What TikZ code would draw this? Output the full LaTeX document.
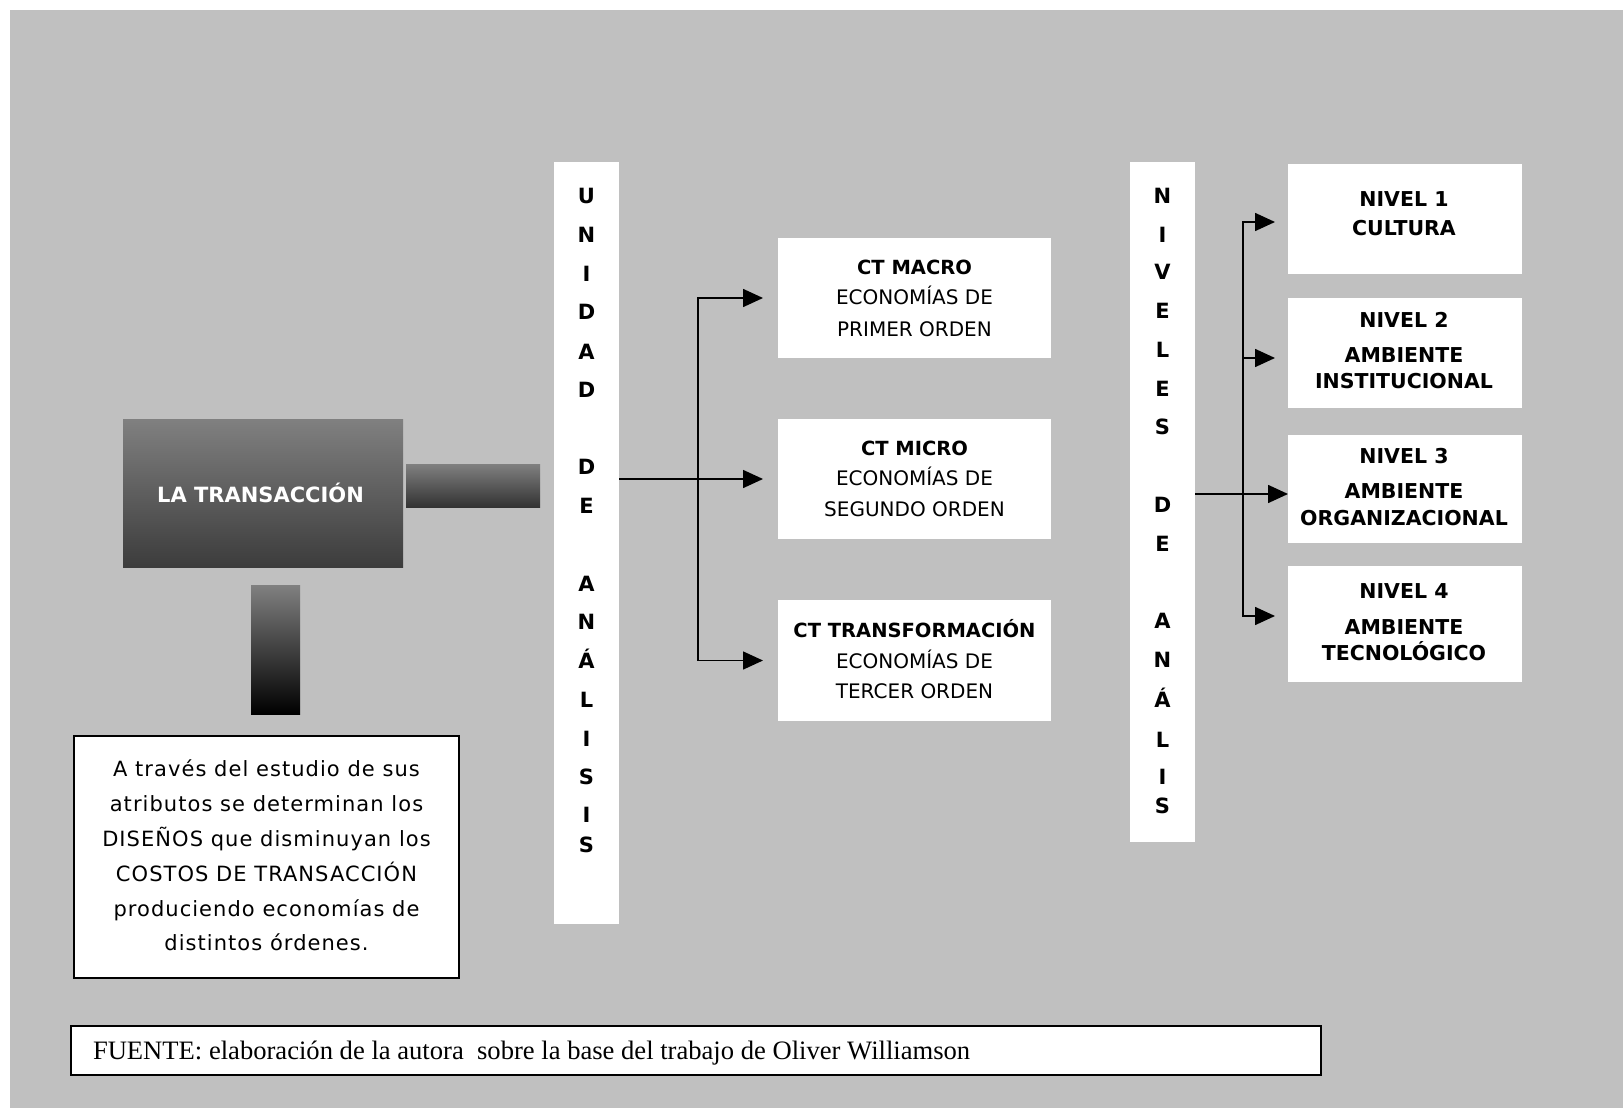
\documentclass[tikz,border=0pt]{standalone}
\usepackage{fontspec}
\usetikzlibrary{arrows.meta}
\setmainfont{DejaVu Sans}
\newfontfamily\footfont{Liberation Serif}
\newfontfamily\widefont[LetterSpace=5]{DejaVu Sans}

\definecolor{bg}{HTML}{C0C0C0}
\definecolor{shadetop}{HTML}{808080}
\definecolor{boxbottom}{HTML}{3C3C3C}
\definecolor{barbottom}{HTML}{333333}

\tikzset{
  wbox/.style={rectangle, fill=white, draw=none, inner sep=0pt, outer sep=0pt, anchor=north west},
  gbox/.style={rectangle, draw=none, inner sep=0pt, outer sep=0pt, anchor=north west, top color=shadetop},
  framed/.style={wbox, draw=black, line width=2pt},
  txt/.style={inner sep=0pt, outer sep=0pt, anchor=base},
  bigbold/.style={txt, font=\bfseries\fontsize{21}{24}\selectfont},
  ctbold/.style={txt, font=\bfseries\fontsize{19.5}{22}\selectfont},
  ctreg/.style={txt, font=\fontsize{20}{22}\selectfont},
  nvbold/.style={txt, font=\bfseries\fontsize{20.5}{24}\selectfont},
  boxreg/.style={txt, font=\widefont\fontsize{21}{24}\selectfont},
  arr/.style={-{Triangle[length=20pt,width=18pt]}, line width=1.6pt},
}

\begin{document}
\begin{tikzpicture}[x=1pt,y=-1pt]
\useasboundingbox (0,0) rectangle (1623,1108);
\fill[white] (0,0) rectangle (1623,1108);
\fill[bg] (10,10) rectangle (1623,1108);

% the transaction block and its two bars
\node[gbox, bottom color=boxbottom, minimum width=280pt, minimum height=148pt] (tr0) at (123,419) {};
\node[bigbold, text=white] (trt) at (260.5,502) {LA TRANSACCIÓN};
\node[gbox, bottom color=barbottom, minimum width=134pt, minimum height=43pt] (hbar) at (406,464) {};
\node[gbox, bottom color=black, minimum width=49pt, minimum height=129pt] (vbar) at (251,585) {};

% explanatory box
\node[framed, minimum width=385pt, minimum height=242pt] (expl) at (74,736) {};
\foreach \t [count=\i] in {A través del estudio de sus, atributos se determinan los,
    DISEÑOS que disminuyan los, COSTOS DE TRANSACCIÓN,
    produciendo economías de, distintos órdenes.}
  \node[boxreg] (ex\i) at (266.5, 742 + 34.8*\i) {\t};

% vertical column: unidad de analisis
\node[wbox, minimum width=65pt, minimum height=762pt] (ua) at (554,162) {};
\foreach \l/\y [count=\i] in {U/196, N/235, I/274, D/312, A/352, D/390, D/467, E/506,
    A/584, N/622, Á/661, L/700, I/739, S/777, I/815, S/845}
  \node[bigbold] (ul\i) at (586.5, \y+7.6) {\l};

% CT boxes
\node[wbox, minimum width=273pt, minimum height=120pt] (ma) at (778,238) {};
\node[wbox, minimum width=273pt, minimum height=120pt] (mi) at (778,419) {};
\node[wbox, minimum width=273pt, minimum height=121pt] (tf) at (778,600) {};
\node[ctbold] (ma1) at (914.5,274.4) {CT MACRO};
\node[ctreg]  (ma2) at (914.5,304.7) {ECONOMÍAS DE};
\node[ctreg]  (ma3) at (914.5,336.1) {PRIMER ORDEN};
\node[ctbold] (mi1) at (914.5,455) {CT MICRO};
\node[ctreg]  (mi2) at (914.5,485.2) {ECONOMÍAS DE};
\node[ctreg]  (mi3) at (914.5,516.7) {SEGUNDO ORDEN};
\node[ctbold] (tf1) at (914.5,637.3) {CT TRANSFORMACIÓN};
\node[ctreg]  (tf2) at (914.5,668) {ECONOMÍAS DE};
\node[ctreg]  (tf3) at (914.5,698.7) {TERCER ORDEN};

% vertical column: niveles de analisis
\node[wbox, minimum width=65pt, minimum height=680pt] (nv) at (1130,162) {};
\foreach \l/\y [count=\i] in {N/196, I/235, V/272, E/311, L/350, E/389, S/427,
    D/505, E/544, A/621, N/660, Á/700, L/740, I/777, S/806}
  \node[bigbold] (nl\i) at (1162.5, \y+7.6) {\l};

% level boxes
\node[wbox, minimum width=234pt, minimum height=110pt] (n1) at (1288,164) {};
\node[wbox, minimum width=234pt, minimum height=110pt] (n2) at (1288,298) {};
\node[wbox, minimum width=234pt, minimum height=108pt] (n3) at (1288,435) {};
\node[wbox, minimum width=234pt, minimum height=116pt] (n4) at (1288,566) {};
\node[nvbold] (n1a) at (1404,206.5) {NIVEL 1};
\node[nvbold] (n1b) at (1404,235) {CULTURA};
\node[nvbold] (n2a) at (1404,327.5) {NIVEL 2};
\node[nvbold] (n2b) at (1404,362.5) {AMBIENTE};
\node[nvbold] (n2c) at (1404,388.5) {INSTITUCIONAL};
\node[nvbold] (n3a) at (1404,463.5) {NIVEL 3};
\node[nvbold] (n3b) at (1404,498.5) {AMBIENTE};
\node[nvbold] (n3c) at (1404,525.5) {ORGANIZACIONAL};
\node[nvbold] (n4a) at (1404,598.5) {NIVEL 4};
\node[nvbold] (n4b) at (1404,634.5) {AMBIENTE};
\node[nvbold] (n4c) at (1404,660.5) {TECNOLÓGICO};

% connectors from the first column
\coordinate (ju) at (698,479);
\draw[arr, shorten >=15pt] (ju -| ua.east) -- (ju -| mi.west);
\draw[arr, shorten >=15pt] (ju) |- (ma.west);
\draw[arr, shorten >=15pt] (ju) |- (tf.west);

% connectors from the second column
\coordinate (jn) at (1243,494);
\draw[arr] (jn -| nv.east) -- (jn -| n3.west);
\draw[arr, shorten >=13pt] (jn) |- ([yshift=-3pt]n1.west);
\draw[arr, shorten >=13pt] (jn) |- ([yshift=-5pt]n2.west);
\draw[arr, shorten >=13pt] (jn) |- ([yshift=8pt]n4.west);

% source line
\node[framed, minimum width=1250pt, minimum height=49pt] (src) at (71,1026) {};
\node[txt, anchor=base west, font=\footfont\fontsize{26.6}{30}\selectfont] (srct) at (93,1059)
  {FUENTE: elaboración de la autora~ sobre la base del trabajo de Oliver Williamson};
\end{tikzpicture}
\end{document}
